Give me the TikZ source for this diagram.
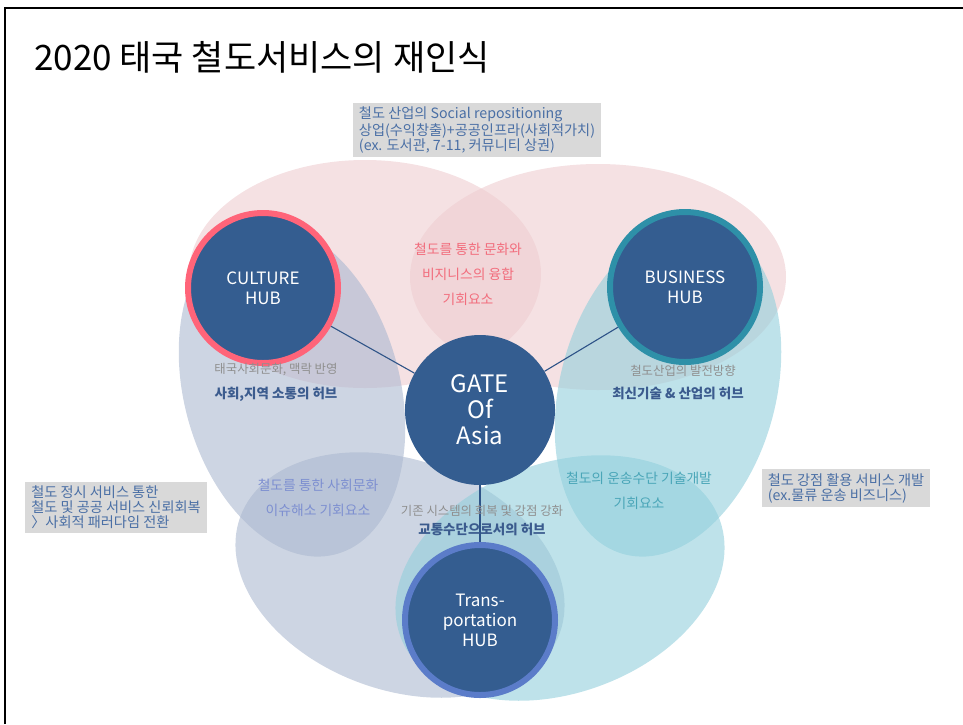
\documentclass[tikz,border=0pt]{standalone}
\usepackage{fontspec}
\setmainfont{Noto Sans CJK KR}
\usepackage{xcolor}
\usetikzlibrary{positioning}

\definecolor{hubblue}{HTML}{345D90}
\definecolor{culturering}{HTML}{FF6479}
\definecolor{businessring}{HTML}{2E90A8}
\definecolor{transring}{HTML}{5B7CC9}
\definecolor{pinkpetal}{HTML}{EECDD0}
\definecolor{graypetal}{HTML}{ACB9D0}
\definecolor{cyanpetal}{HTML}{93CFDC}
\definecolor{pinktext}{HTML}{F26D7D}
\definecolor{lavtext}{HTML}{7D8FD0}
\definecolor{tealtext}{HTML}{4AA6B8}
\definecolor{graytext}{HTML}{8F8F8F}
\definecolor{roletext}{HTML}{3B5B8E}
\definecolor{boxtext}{HTML}{4A6FA5}
\definecolor{boxfill}{HTML}{D9D9D9}
\definecolor{linkblue}{HTML}{2F5488}

\begin{document}
\begin{tikzpicture}[
    x=1pt, y=-1pt,
    hub/.style={circle, fill=hubblue, minimum size=150pt, inner sep=0pt, text=white, align=center, font=\fontsize{17}{20}\selectfont},
    petal/.style={fill opacity=0.6},
    note/.style={rectangle, fill=boxfill, text=boxtext, align=left, inner xsep=6pt, inner ysep=4pt, font=\fontsize{14.2}{15}\selectfont},
    lenstext/.style={align=center, inner sep=0pt, font=\fontsize{13.8}{25}\selectfont},
    subtext/.style={text=graytext, inner sep=0pt, font=\fontsize{12.4}{14}\selectfont},
    roletext/.style={text=roletext, inner sep=0pt, font=\fontsize{13.5}{15}\bfseries},
    link/.style={draw=linkblue, line width=1.1pt}
]
\useasboundingbox (0,0) rectangle (963,724);

% Frame and title
\draw[line width=2pt] (4.5,724) -- (4.5,7.5) -- (963,7.5);
\node[anchor=west, inner sep=0pt, font=\fontsize{35}{38}\selectfont] (title) at (34,57) {2020 태국 철도서비스의 재인식};

% Petals: pink (top), gray (left), cyan (right)
\fill[pinkpetal, petal] (365,274) ellipse [x radius=176, y radius=114];
\fill[pinkpetal, petal] (598,277) ellipse [x radius=188, y radius=113];
\fill[graypetal, petal, rotate around={-75:(292,390)}] (292,390) ellipse [x radius=170, y radius=108];
\fill[graypetal, petal, rotate around={-20:(400,575)}] (400,575) ellipse [x radius=170, y radius=115];
\fill[cyanpetal, petal, rotate around={75:(668,390)}] (668,390) ellipse [x radius=170, y radius=108];
\fill[cyanpetal, petal, rotate around={20:(560,578)}] (560,578) ellipse [x radius=170, y radius=115];

% Hubs
\node[hub, draw=culturering, line width=6pt] (culture) at (263,288) {CULTURE\\HUB};
\node[hub, draw=businessring, line width=6pt] (business) at (685,287) {BUSINESS\\HUB};
\node[hub, font=\fontsize{24}{26}\selectfont] (gate) at (480,410) {GATE\\Of\\Asia};
\node[hub, draw=transring, line width=6pt] (transport) at (480,620) {Trans-\\portation\\HUB};

% Links
\draw[link] (culture) -- (gate);
\draw[link] (business) -- (gate);
\draw[link] (gate) -- (transport);

% Lens texts
\node[lenstext, text=pinktext] (fusion) at (468,274) {철도를 통한 문화와\\비지니스의 융합\\기회요소};
\node[lenstext, text=lavtext] (social) at (318,498) {철도를 통한 사회문화\\이슈해소 기회요소};
\node[lenstext, text=tealtext] (tech) at (639,491) {철도의 운송수단 기술개발\\기회요소};

% Hub roles
\node[subtext] (culturesub) at (276,370) {태국사회문화, 맥락 반영};
\node[roletext, below=10pt of culturesub] (culturerole) {사회,지역 소통의 허브};
\node[subtext] (businesssub) at (683,371) {철도산업의 발전방향};
\node[roletext, below=10pt of businesssub, xshift=-5pt] (businessrole) {최신기술 \& 산업의 허브};
\node[subtext] (transsub) at (482,511) {기존 시스템의 회복 및 강점 강화};
\node[roletext, below=6pt of transsub] (transrole) {교통수단으로서의 허브};

% Notes
\node[note] (topnote) at (477,130) {철도 산업의 Social repositioning\\상업(수익창출)+공공인프라(사회적가치)\\(ex. 도서관, 7-11, 커뮤니티 상권)};
\node[note] (leftnote) at (116,507) {철도 정시 서비스 통한\\철도 및 공공 서비스 신뢰회복\\〉사회적 패러다임 전환};
\node[note] (rightnote) at (846,488) {철도 강점 활용 서비스 개발\\(ex.물류 운송 비즈니스)};

\end{tikzpicture}
\end{document}
